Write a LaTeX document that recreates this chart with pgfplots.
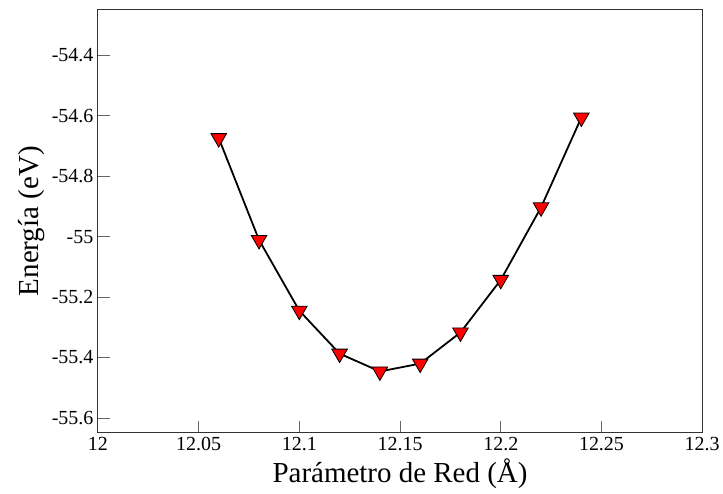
\documentclass[border=0pt]{standalone}
\usepackage{pgfplots}
\pgfplotsset{compat=1.18}
\usepackage{fontspec}
\setmainfont{Liberation Serif}
\begin{document}
\begin{tikzpicture}
\begin{axis}[
  scale only axis,
  width=605bp, height=423bp,
  xmin=12, xmax=12.3,
  ymin=-55.648, ymax=-54.25,
  xtick={12,12.05,12.1,12.15,12.2,12.25,12.3},
  ytick={-55.6,-55.4,-55.2,-55,-54.8,-54.6,-54.4},
  xtick pos=left, ytick pos=left,
  tick align=inside,
  major tick length=12bp,
  minor tick num=0,
  axis line style={line width=1bp, black!80},
  tick style={line width=1bp, black!60},
  /pgf/number format/assume math mode=true,
  ticklabel style={font=\fontsize{20bp}{22bp}\selectfont},
  xticklabel style={yshift=-1bp},
  yticklabel style={xshift=-1bp},
  label style={font=\fontsize{29bp}{32bp}\selectfont},
  xlabel={Parámetro de Red (Å)},
  ylabel={Energía (eV)},
  xlabel style={yshift=-1bp},
  ylabel style={yshift=0bp},
]
\addplot[black, line width=1.8bp, mark=triangle*, mark size=9bp,
  mark options={rotate=180, fill=red, draw=black, line width=0.8bp}]
coordinates {
(12.06,-54.674)
(12.08,-55.011)
(12.10,-55.245)
(12.12,-55.387)
(12.14,-55.446)
(12.16,-55.420)
(12.18,-55.317)
(12.20,-55.143)
(12.22,-54.903)
(12.24,-54.606)
};
\end{axis}
\path ([xshift=-98bp,yshift=-61bp]current axis.south west) rectangle ([xshift=20bp,yshift=10bp]current axis.north east);
\end{tikzpicture}
\end{document}
